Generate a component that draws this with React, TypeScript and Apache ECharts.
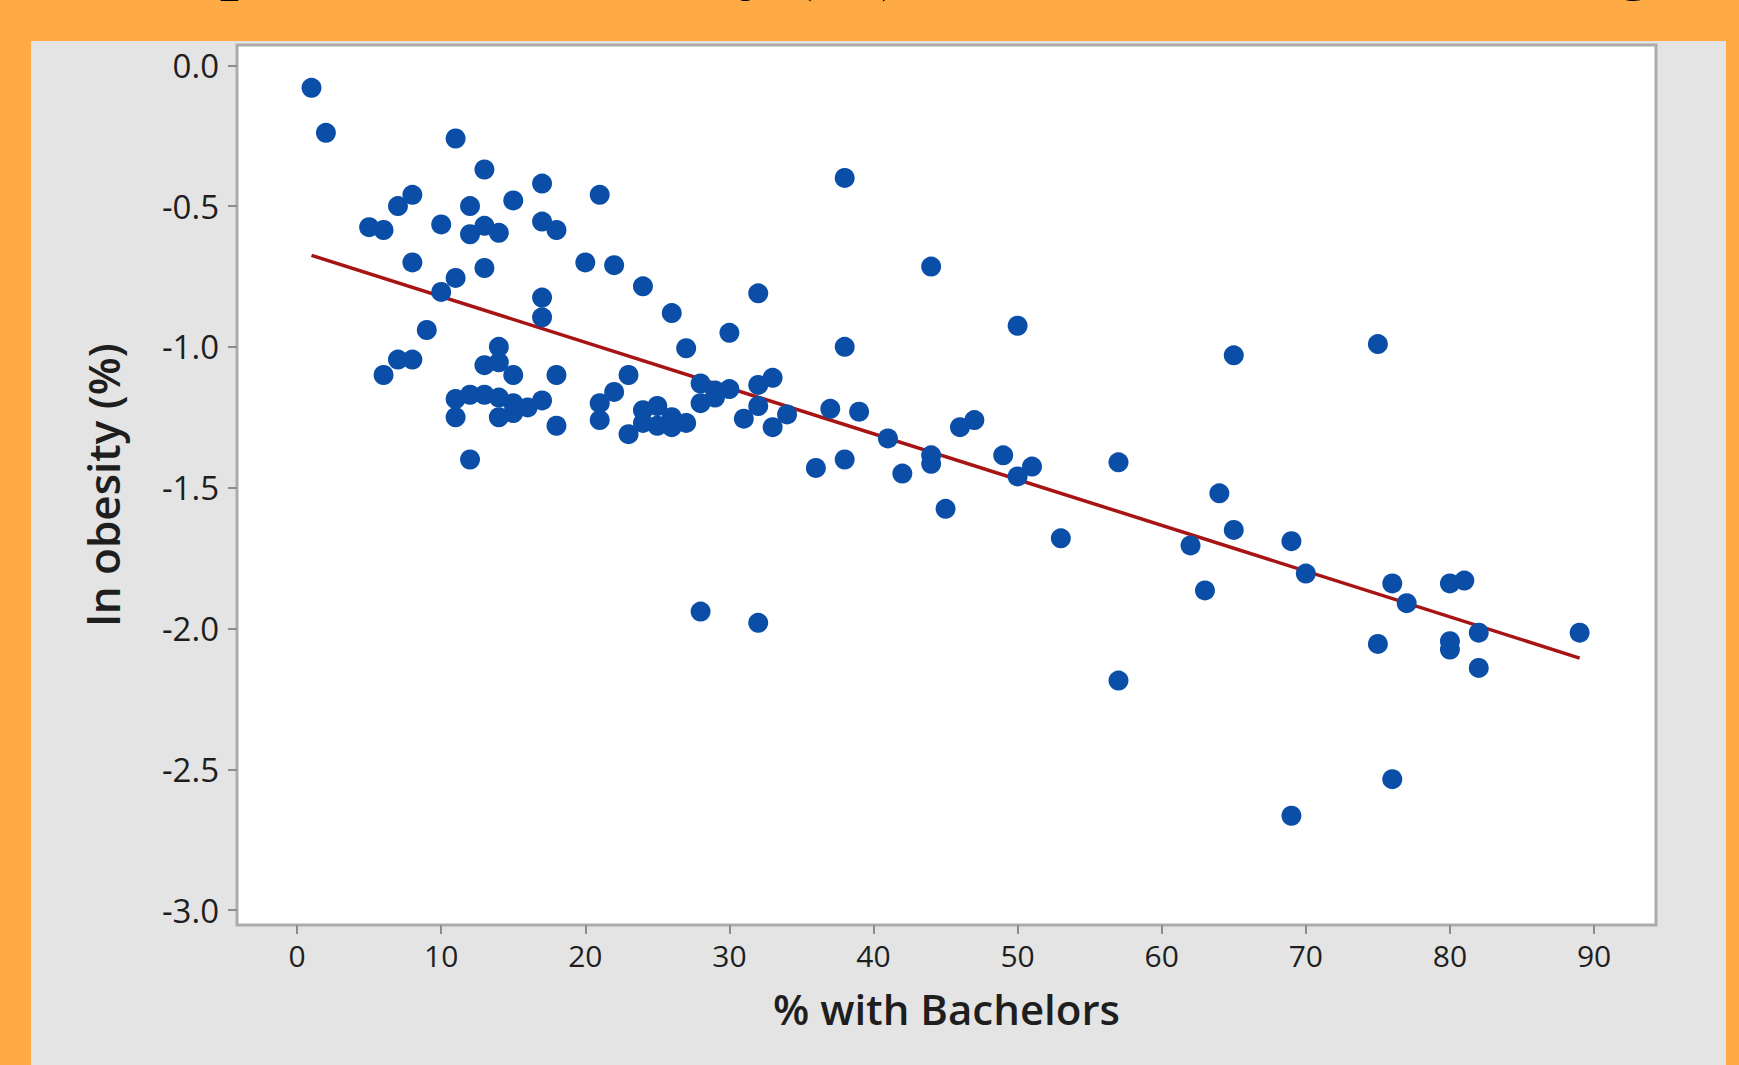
import React, { useEffect, useRef } from "react";
import * as echarts from "echarts";

// Tick values
const xTicks = [0, 10, 20, 30, 40, 50, 60, 70, 80, 90];
const yTicks = [0, -0.5, -1, -1.5, -2, -2.5, -3];

// % with Bachelors (x) and ln obesity (%) (y)
const bachelors = [
  1, 2, 11, 13, 17, 38, 21, 8, 7, 12, 15, 5, 6, 10, 12, 13, 14, 17, 18, 8,
  13, 11, 10, 20, 22, 24, 17, 17, 26, 32, 44, 9, 30, 27, 50, 38, 75, 65, 14, 7,
  8, 6, 13, 14, 15, 18, 11, 11, 12, 13, 14, 14, 15, 15, 16, 17, 18, 12, 21, 21,
  22, 23, 23, 24, 24, 25, 25, 26, 26, 27, 28, 28, 29, 29, 30, 31, 32, 32, 33, 33,
  34, 28, 32, 36, 37, 38, 39, 41, 42, 44, 44, 45, 46, 47, 49, 50, 51, 53, 57, 57,
  62, 63, 64, 65, 69, 69, 70, 75, 76, 76, 77, 80, 81, 80, 80, 82, 82, 89,
];
const lnObesity = [
  -0.08, -0.24, -0.26, -0.37, -0.42, -0.4, -0.46, -0.46, -0.5, -0.5, -0.48, -0.575, -0.585, -0.565, -0.6, -0.57, -0.595, -0.555, -0.585, -0.7,
  -0.72, -0.755, -0.805, -0.7, -0.71, -0.785, -0.825, -0.895, -0.88, -0.81, -0.715, -0.94, -0.95, -1.005, -0.925, -1.0, -0.99, -1.03, -1.0, -1.045,
  -1.045, -1.1, -1.065, -1.055, -1.1, -1.1, -1.185, -1.25, -1.17, -1.17, -1.18, -1.25, -1.2, -1.235, -1.215, -1.19, -1.28, -1.4, -1.26, -1.2,
  -1.16, -1.1, -1.31, -1.225, -1.27, -1.21, -1.28, -1.25, -1.285, -1.27, -1.13, -1.2, -1.18, -1.155, -1.15, -1.255, -1.135, -1.21, -1.11, -1.285,
  -1.24, -1.94, -1.98, -1.43, -1.22, -1.4, -1.23, -1.325, -1.45, -1.385, -1.415, -1.575, -1.285, -1.26, -1.385, -1.46, -1.425, -1.68, -1.41, -2.185,
  -1.705, -1.865, -1.52, -1.65, -1.69, -2.665, -1.805, -2.055, -1.84, -2.535, -1.91, -1.84, -1.83, -2.045, -2.075, -2.015, -2.14, -2.015,
];

// Fitted line end points
const fitX = [1, 89];
const fitY = [-0.675, -2.105];

const titleText = "Scatterplot with ln obesity (%) vs. % with Bachelors degree";
const xName = "% with Bachelors";
const yName = "ln obesity (%)";

export default function App() {
  const ref = useRef<HTMLDivElement>(null);

  useEffect(() => {
    if (!ref.current) return;
    const chart = echarts.init(ref.current, undefined, { renderer: "svg" });
    const points = bachelors.map((x, i) => [x, lnObesity[i]]);
    const fit = fitX.map((x, i) => [x, fitY[i]]);
    chart.setOption({
      animation: false,
      backgroundColor: "#ffab45",
      graphic: [
        {
          type: "rect",
          z: -10,
          shape: { x: 31, y: 41, width: 1695, height: 1030 },
          style: { fill: "#e4e4e4" },
        },
        {
          type: "text",
          z: 100,
          x: 12,
          y: -36,
          style: {
            text: titleText,
            font: 'bold 68px "Liberation Serif"',
            fill: "#000",
            verticalAlign: "middle",
            align: "left",
          },
        },
      ],
      grid: {
        left: 237,
        top: 45,
        width: 1419,
        height: 880,
        show: true,
        backgroundColor: "#ffffff",
        borderColor: "#ababab",
        borderWidth: 3,
        containLabel: false,
        outerBoundsMode: "none",
        z: 1,
      },
      xAxis: {
        type: "value",
        min: -4.17,
        max: 94.3,
        z: 5,
        name: xName,
        nameLocation: "middle",
        nameGap: 62,
        nameTextStyle: {
          fontFamily: "Open Sans",
          fontSize: 42,
          fontWeight: 600,
          color: "#1e1e1e",
        },
        axisLine: { show: false, onZero: false },
        splitLine: { show: false },
        axisTick: {
          show: true,
          inside: false,
          customValues: xTicks,
          length: 9,
          lineStyle: { color: "#8c8c8c", width: 2 },
        },
        axisLabel: {
          customValues: xTicks,
          margin: 15,
          formatter: (v: number) => String(v),
          fontFamily: "Open Sans",
          fontSize: 30,
          color: "#1e1e1e",
        },
      },
      yAxis: {
        type: "value",
        min: -3.053,
        max: 0.072,
        z: 5,
        name: yName,
        nameLocation: "middle",
        nameRotate: 90,
        nameGap: 112,
        nameTextStyle: {
          fontFamily: "Open Sans",
          fontSize: 44,
          fontWeight: 600,
          color: "#1e1e1e",
        },
        axisLine: { show: false, onZero: false },
        splitLine: { show: false },
        axisTick: {
          show: true,
          inside: false,
          customValues: yTicks,
          length: 9,
          lineStyle: { color: "#8c8c8c", width: 2 },
        },
        axisLabel: {
          customValues: yTicks,
          margin: 18,
          formatter: (v: number) => v.toFixed(1),
          fontFamily: "Open Sans",
          fontSize: 33,
          color: "#1e1e1e",
        },
      },
      series: [
        {
          type: "line",
          data: fit,
          showSymbol: false,
          symbol: "none",
          lineStyle: { color: "#a81414", width: 3.5 },
          z: 2,
        },
        {
          type: "scatter",
          data: points,
          symbol: "circle",
          symbolSize: 20,
          itemStyle: { color: "#0a4ea8", opacity: 1 },
          z: 3,
        },
      ],
    });
    return () => chart.dispose();
  }, []);

  return (
    <div
      ref={ref}
      style={{ position: "absolute", left: 0, top: 0, width: 1739, height: 1065 }}
    />
  );
}
